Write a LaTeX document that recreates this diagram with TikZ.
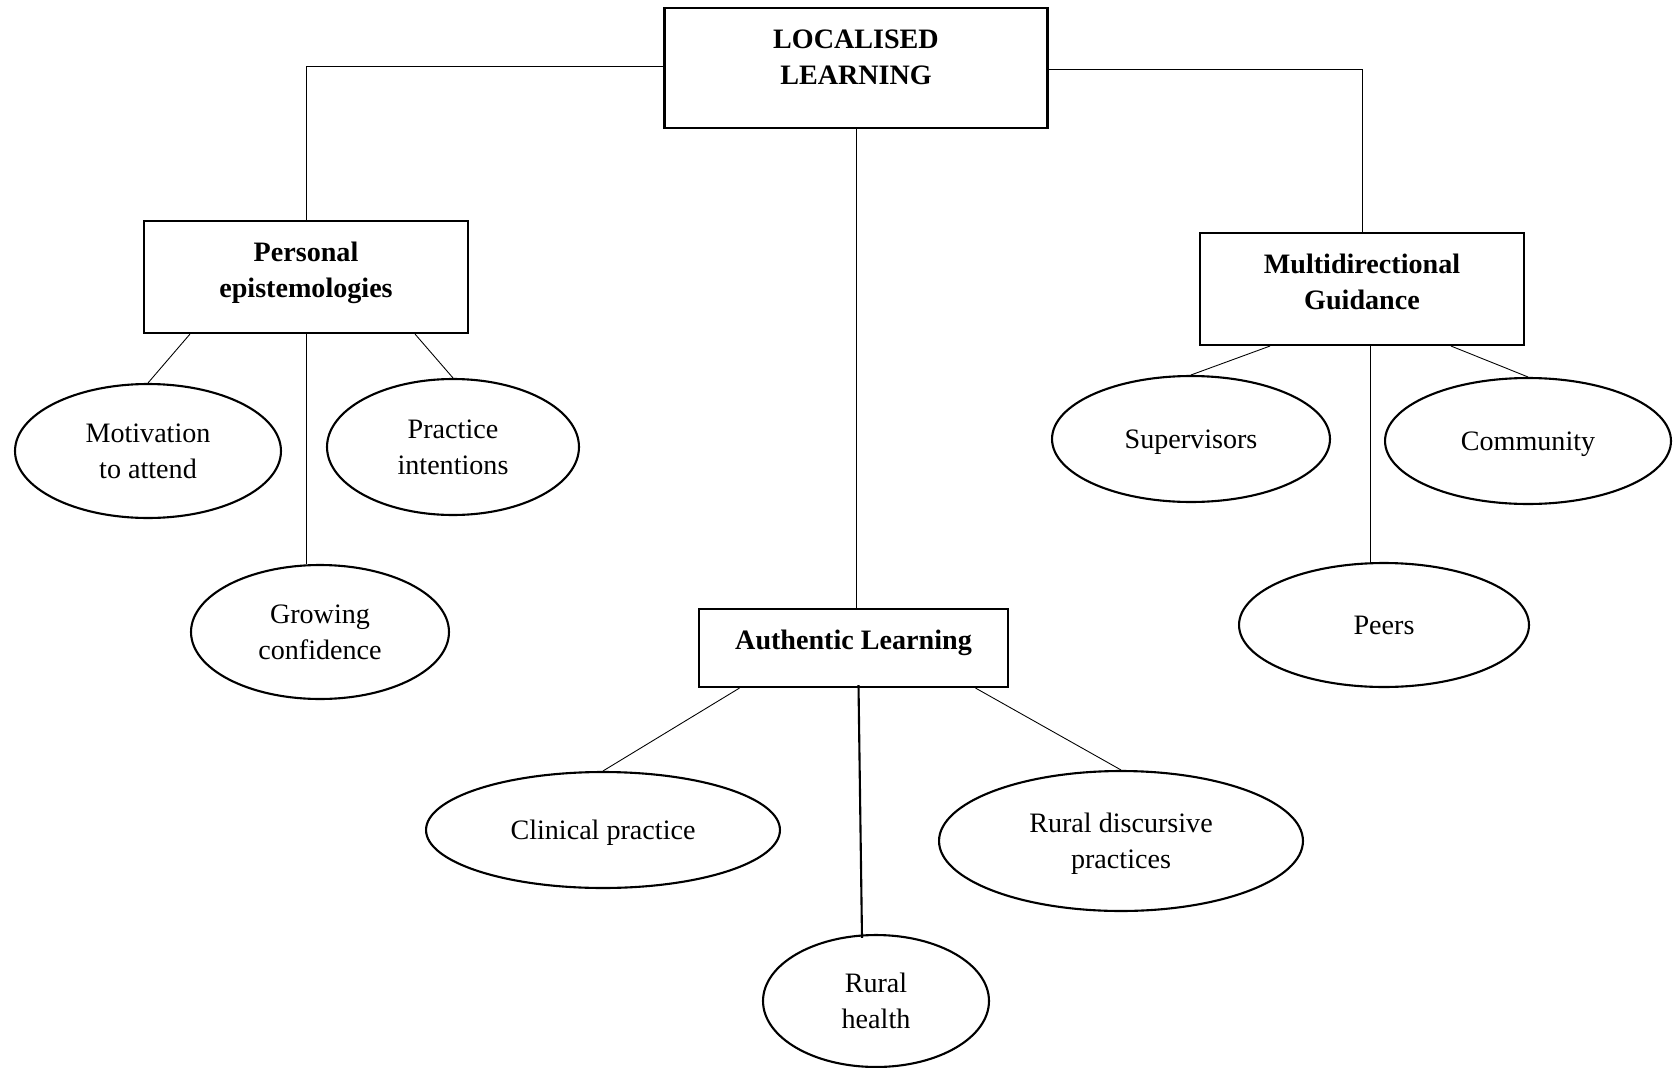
\documentclass[tikz,border=0pt]{standalone}
\usepackage{fontspec}
\setmainfont{Liberation Serif}
\usetikzlibrary{positioning,calc,shapes.geometric}

\begin{document}
\begin{tikzpicture}[x=0.02cm,y=-0.02cm,
  box/.style={draw,line width=1.2pt,rectangle,inner sep=0pt},
  head/.style={font=\fontsize{16}{20.5}\selectfont\bfseries,align=center},
  oval/.style={draw,line width=1.2pt,ellipse,inner sep=0pt,align=center,
    text depth=0pt,font=\fontsize{16}{20.5}\selectfont},
  link/.style={line width=0.5pt}]
\useasboundingbox (0,0) rectangle (1673,1068);
% boxes
\node[box,minimum width=7.66cm,minimum height=2.4cm] (top) at (856,68) {};
\node[head] (topt) at (856,57) {LOCALISED\\LEARNING};
\node[box,minimum width=6.48cm,minimum height=2.24cm] (pe) at (306,277) {};
\node[head] (pet) at (306,273) {Personal\\epistemologies};
\node[box,minimum width=6.48cm,minimum height=2.24cm] (md) at (1362,289) {};
\node[head] (mdt) at (1362,282) {Multidirectional\\Guidance};
\node[box,minimum width=6.18cm,minimum height=1.56cm] (al) at (853.5,648) {};
\node[head] (alt) at (853.5,643) {Authentic Learning};
% ovals
\node[oval,minimum width=5.32cm,minimum height=2.68cm] (mo) at (148,451) {Motivation\\to attend};
\node[oval,minimum width=5.04cm,minimum height=2.72cm] (pi) at (453,447) {Practice\\intentions};
\node[oval,minimum width=5.16cm,minimum height=2.68cm] (gc) at (320,632) {Growing\\confidence};
\node[oval,minimum width=5.56cm,minimum height=2.52cm] (su) at (1191,439) {Supervisors};
\node[oval,minimum width=5.72cm,minimum height=2.52cm] (co) at (1528,441) {Community};
\node[oval,minimum width=5.8cm,minimum height=2.48cm] (pr) at (1384,625) {Peers};
\node[oval,minimum width=7.08cm,minimum height=2.32cm] (cp) at (603,830) {Clinical practice};
\node[oval,minimum width=7.28cm,minimum height=2.8cm] (rd) at (1121,841) {Rural discursive\\practices};
\node[oval,minimum width=4.52cm,minimum height=2.64cm] (rh) at (876,1001) {Rural\\health};
% links
\coordinate (mdp) at ($(md.south)+(8,0)$);
\draw[link] ($(top.west)+(0,-2)$) -| (pe.north);
\draw[link] ($(top.east)+(0,1)$) -| (md.north);
\draw[link] (top.south) -- (top.south |- al.north);
\draw[link] ($(pe.south)+(-116,0)$) -- (mo.north);
\draw[link] (pe.south) -- (pe.south |- gc.north);
\draw[link] ($(pe.south)+(109,0)$) -- (pi.north);
\draw[link] ($(md.south)+(-92,0)$) -- (su.north);
\draw[link] (mdp) -- (mdp |- pr.north);
\draw[link] ($(md.south)+(89,0)$) -- (co.north);
\draw[link] ($(al.south)+(-114,0)$) -- (cp.north);
\draw[link,line width=1.2pt] ($(al.south)+(5,-3)$) -- ($(rh.north)+(-14,4)$);
\draw[link] ($(al.south)+(122,0)$) -- (rd.north);
\end{tikzpicture}
\end{document}
